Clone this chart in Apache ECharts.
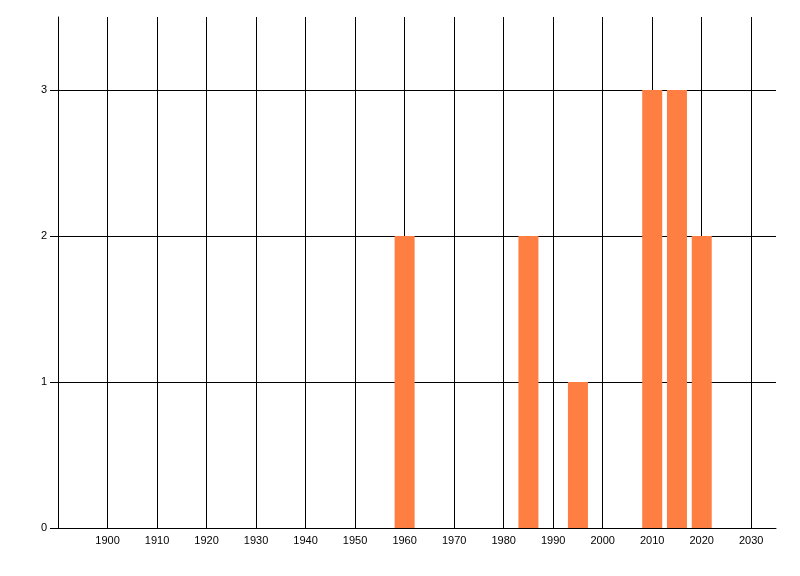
<!DOCTYPE html>
<html>
<head>
<meta charset="utf-8">
<script src="https://cdn.jsdelivr.net/npm/echarts@6/dist/echarts.min.js"></script>
<style>
  html, body { margin: 0; padding: 0; background: #fff; }
  #chart { width: 800px; height: 576px; }
</style>
</head>
<body>
<div id="chart"></div>
<script>
var years = [1960, 1985, 1995, 2010, 2015, 2020];
var counts = [2, 2, 1, 3, 3, 2];
var xTicks = [1900, 1910, 1920, 1930, 1940, 1950, 1960, 1970, 1980, 1990, 2000, 2010, 2020, 2030];
var yTicks = [0, 1, 2, 3];

var barData = [];
for (var i = 0; i < years.length; i++) {
    barData.push([years[i], counts[i]]);
}

var myChart = echarts.init(document.getElementById('chart'));
myChart.setOption({
    animation: false,
    grid: { left: 58, right: 24, top: 17, bottom: 48, containLabel: false },
    xAxis: {
        type: 'value',
        min: 1890,
        max: 2035,
        interval: 10,
        axisLine: { show: true, lineStyle: { color: '#000', width: 1 } },
        axisTick: { show: false },
        axisLabel: {
            customValues: xTicks,
            formatter: function (v) { return String(v); },
            color: '#000',
            fontFamily: 'Liberation Sans',
            fontSize: 11,
            margin: 7
        },
        splitLine: {
            show: true,
            showMinLine: true,
            showMaxLine: false,
            lineStyle: { color: '#000', width: 1 }
        }
    },
    yAxis: {
        type: 'value',
        min: 0,
        max: 3.5,
        interval: 1,
        axisLine: { show: true, lineStyle: { color: '#000', width: 1 } },
        axisTick: {
            show: true,
            customValues: yTicks,
            length: 8,
            lineStyle: { color: '#000', width: 1 }
        },
        axisLabel: {
            customValues: yTicks,
            formatter: function (v) { return String(v); },
            color: '#000',
            fontFamily: 'Liberation Sans',
            fontSize: 11,
            margin: 11
        },
        splitLine: {
            show: true,
            showMinLine: false,
            showMaxLine: true,
            lineStyle: { color: '#000', width: 1 }
        }
    },
    series: [
        {
            type: 'bar',
            data: barData,
            barWidth: 20,
            itemStyle: { color: '#FF7F42' }
        }
    ]
});
</script>
</body>
</html>
